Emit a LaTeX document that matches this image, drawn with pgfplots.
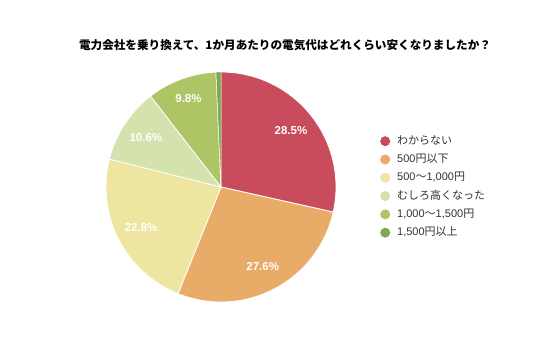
\documentclass[border=0pt]{standalone}
\usepackage{pgfplots}
\pgfplotsset{compat=1.18}
\usepackage{fontspec}
\setmainfont{Liberation Sans}
\newfontfamily\cjk{Noto Sans CJK JP}
\definecolor{c1}{HTML}{C84C5C}
\definecolor{c2}{HTML}{E8AC68}
\definecolor{c3}{HTML}{EEE6A0}
\definecolor{c4}{HTML}{D4E2AE}
\definecolor{c5}{HTML}{AEC566}
\definecolor{c6}{HTML}{80A852}
\definecolor{txt}{HTML}{333333}
% data (percent)
\def\vA{28.5}\def\vB{27.6}\def\vC{22.8}\def\vD{10.6}\def\vE{9.8}\def\vF{0.7}
\pgfmathsetmacro\aA{90}
\pgfmathsetmacro\aB{\aA-3.6*\vA}
\pgfmathsetmacro\aC{\aB-3.6*\vB}
\pgfmathsetmacro\aD{\aC-3.6*\vC}
\pgfmathsetmacro\aE{\aD-3.6*\vD}
\pgfmathsetmacro\aF{\aE-3.6*\vE}
\pgfmathsetmacro\aG{\aF-3.6*\vF}
\def\cx{221}\def\cy{170}\def\R{115}\def\lr{0.78}
\begin{document}
\begin{tikzpicture}
\begin{axis}[width=536bp,height=357bp,scale only axis,
  xmin=0,xmax=536,ymin=0,ymax=357,hide axis,clip=false,
  legend image code/.code={\fill[draw=none] (0bp,0bp) circle (5bp);},
  legend cell align=left,
  legend style={at={(axis cs:380,221)},anchor=north west,draw=none,fill=none,
    inner sep=0pt,row sep=8.3bp,text=txt,
    font=\fontsize{11bp}{13bp}\selectfont,
    nodes={inner xsep=0pt,inner ysep=0pt,text height=8bp,text depth=2bp},
    /tikz/every odd column/.append style={column sep=7bp}},
]
\fill[white] (axis cs:0,0) rectangle (axis cs:536,357);
\addplot[fill=c1,draw=white,line width=0.8bp,domain=\aB:\aA,samples=80]
  ({\cx+\R*cos(x)},{\cy+\R*sin(x)}) -- (axis cs:\cx,\cy) -- cycle;
\addlegendentry{{\cjk わからない}}
\addplot[fill=c2,draw=white,line width=0.8bp,domain=\aC:\aB,samples=80]
  ({\cx+\R*cos(x)},{\cy+\R*sin(x)}) -- (axis cs:\cx,\cy) -- cycle;
\addlegendentry{500{\cjk 円以下}}
\addplot[fill=c3,draw=white,line width=0.8bp,domain=\aD:\aC,samples=80]
  ({\cx+\R*cos(x)},{\cy+\R*sin(x)}) -- (axis cs:\cx,\cy) -- cycle;
\addlegendentry{500{\cjk ～}1,000{\cjk 円}}
\addplot[fill=c4,draw=white,line width=0.8bp,domain=\aE:\aD,samples=40]
  ({\cx+\R*cos(x)},{\cy+\R*sin(x)}) -- (axis cs:\cx,\cy) -- cycle;
\addlegendentry{{\cjk むしろ高くなった}}
\addplot[fill=c5,draw=white,line width=0.8bp,domain=\aF:\aE,samples=40]
  ({\cx+\R*cos(x)},{\cy+\R*sin(x)}) -- (axis cs:\cx,\cy) -- cycle;
\addlegendentry{1,000{\cjk ～}1,500{\cjk 円}}
\addplot[fill=c6,draw=white,line width=0.4bp,domain=\aG:\aF,samples=5]
  ({\cx+\R*cos(x)},{\cy+\R*sin(x)}) -- (axis cs:\cx,\cy) -- cycle;
\addlegendentry{1,500{\cjk 円以上}}
% labels
\pgfmathsetmacro\mA{(\aA+\aB)/2}
\pgfmathsetmacro\mB{(\aB+\aC)/2}
\pgfmathsetmacro\mC{(\aC+\aD)/2}
\pgfmathsetmacro\mD{(\aD+\aE)/2}
\pgfmathsetmacro\mE{(\aE+\aF)/2}
\begin{scope}[every node/.style={text=white,font=\fontsize{11.5bp}{13bp}\selectfont\bfseries}]
\node at (axis cs:{\cx+\lr*\R*cos(\mA)},{\cy+\lr*\R*sin(\mA)}) {\vA\%};
\node at (axis cs:{\cx+\lr*\R*cos(\mB)},{\cy+\lr*\R*sin(\mB)}) {\vB\%};
\node at (axis cs:{\cx+\lr*\R*cos(\mC)},{\cy+\lr*\R*sin(\mC)}) {\vC\%};
\node at (axis cs:{\cx+\lr*\R*cos(\mD)},{\cy+\lr*\R*sin(\mD)}) {\vD\%};
\node at (axis cs:{\cx+0.82*\R*cos(\mE)},{\cy+0.82*\R*sin(\mE)}) {\vE\%};
\end{scope}
\node[font=\fontsize{11.6bp}{14bp}\selectfont\bfseries] at (axis cs:285,312)
  {\cjk 電力会社を乗り換えて、1か月あたりの電気代はどれくらい安くなりましたか？};
\end{axis}
\end{tikzpicture}
\end{document}
